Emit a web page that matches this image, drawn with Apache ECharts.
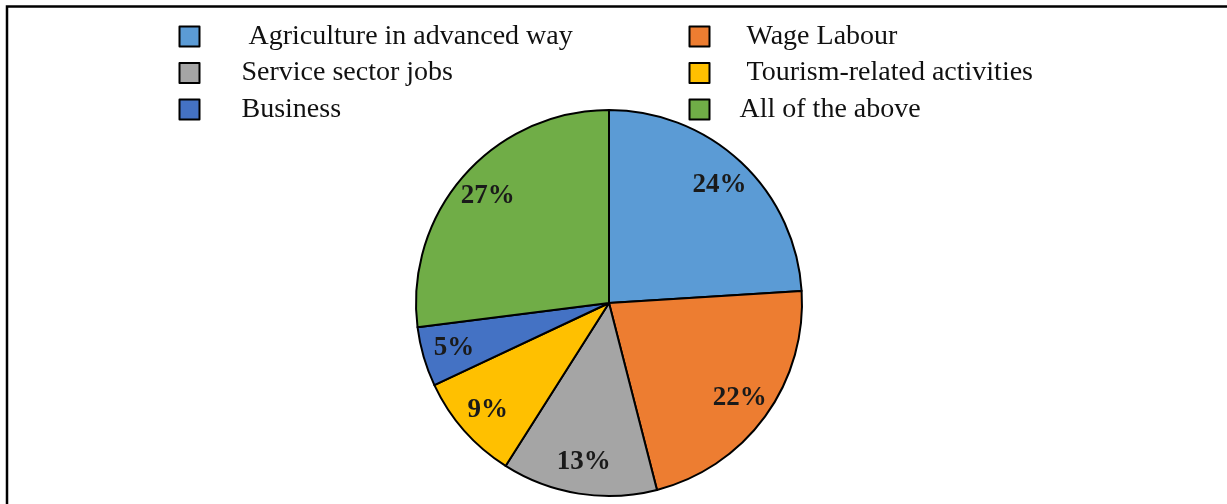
<!DOCTYPE html>
<html>
<head>
<meta charset="utf-8">
<script src="https://cdn.jsdelivr.net/npm/echarts@6/dist/echarts.min.js"></script>
<style>
  html, body { margin: 0; padding: 0; background: #fff; }
  #chart { width: 1227px; height: 504px; }
</style>
</head>
<body>
<div id="chart"></div>
<script>
// Livelihood preferences (share of respondents, %)
const categories = [
  'Agriculture in advanced way',
  'Wage Labour',
  'Service sector jobs',
  'Tourism-related activities',
  'Business',
  'All of the above'
];
const shares = [24, 22, 13, 9, 5, 27];
const sliceColors = ['#5B9BD5', '#ED7D31', '#A5A5A5', '#FFC000', '#4472C4', '#70AD47'];

// legend columns
const leftColumn = ['Agriculture in advanced way', 'Service sector jobs', 'Business'];
const rightColumn = ['Wage Labour', 'Tourism-related activities', 'All of the above'];
const indented = ['Agriculture in advanced way', 'Wage Labour', 'Tourism-related activities'];

const pieData = categories.map((name, i) => ({
  name: name,
  value: shares[i],
  itemStyle: { color: sliceColors[i] }
}));

const center = [609, 303];
const radius = 193;
const serif = '"Liberation Serif", "Times New Roman", serif';

function legendFor(names, left, textPad) {
  return {
    data: names,
    orient: 'vertical',
    left: left,
    top: 22.5,
    padding: 0,
    itemWidth: 20,
    itemHeight: 20,
    itemGap: 8.5,
    icon: 'rect',
    selectedMode: false,
    itemStyle: { borderColor: '#000', borderWidth: 2 },
    formatter: name => (indented.includes(name) ? ' ' : '') + name,
    textStyle: {
      fontFamily: serif,
      fontSize: 28,
      color: '#111',
      lineHeight: 28,
      padding: [0, 0, 0, textPad]
    }
  };
}

const chart = echarts.init(document.getElementById('chart'), null, { renderer: 'canvas' });
chart.setOption({
  backgroundColor: '#fff',
  animation: false,
  graphic: [{
    type: 'rect',
    shape: { x: 7, y: 6.5, width: 1400, height: 700 },
    style: { fill: 'none', stroke: '#000', lineWidth: 2.5 },
    silent: true
  }],
  legend: [
    legendFor(leftColumn, 178.5, 37),
    legendFor(rightColumn, 688.5, 25)
  ],
  series: [
    {
      type: 'pie',
      center: center,
      radius: radius,
      startAngle: 90,
      clockwise: true,
      label: { show: false },
      labelLine: { show: false },
      emphasis: { disabled: true },
      itemStyle: { borderColor: '#000', borderWidth: 2 },
      data: pieData
    },
    {
      // percentage labels set near the rim of each slice
      type: 'pie',
      center: center,
      radius: [124, radius],
      startAngle: 90,
      clockwise: true,
      silent: true,
      z: 3,
      emphasis: { disabled: true },
      itemStyle: { color: 'rgba(0,0,0,0)', borderWidth: 0 },
      labelLine: { show: false },
      label: {
        show: true,
        position: 'inside',
        formatter: p => p.value + '%',
        fontFamily: serif,
        fontWeight: 'bold',
        fontSize: 27,
        color: '#1a1a1a'
      },
      data: categories.map((name, i) => ({ name: name, value: shares[i] }))
    }
  ]
});
</script>
</body>
</html>
